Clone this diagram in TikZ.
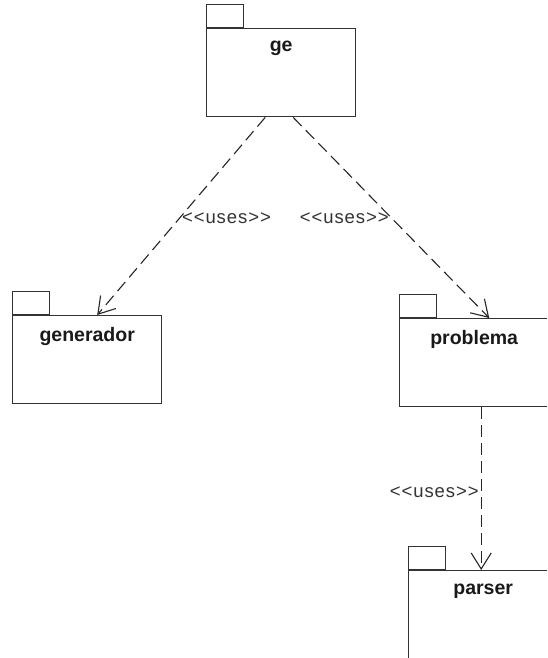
\documentclass[tikz,border=0pt]{standalone}
\usepackage{fontspec}
\setmainfont{Liberation Sans}
\usepackage{tikz}
\usetikzlibrary{positioning, calc, arrows.meta}

\begin{document}
\begin{tikzpicture}[
    x=1pt, y=-1pt,
    pkg/.style={
        rectangle, draw=black!80, line width=1.4pt,
        minimum width=149pt, minimum height=88pt,
        anchor=north west, inner sep=0pt
    },
    pkgtab/.style={
        rectangle, draw=black!80, line width=1.4pt,
        minimum width=37pt, minimum height=23pt,
        anchor=south west, inner sep=0pt
    },
    pkgname/.style={font=\fontsize{19.5}{22}\selectfont\bfseries, text=black!90, inner sep=0pt},
    uses/.style={
        -{Straight Barb[length=16pt, width=20pt, line width=1.1pt]},
        dash pattern=on 12pt off 6pt, line width=1.1pt, draw=black!85
    },
    stereo/.style={font=\fontsize{18.5}{20}\selectfont\addfontfeatures{LetterSpace=5}, text=black!80, inner sep=2pt}
]

% 0. Page frame (the right and lower packages run off the edge)
\path[use as bounding box, clip] (0,0) rectangle (547,658);
\fill[white] (0,0) rectangle (547,658);

% 1. Packages
\node[pkg] (ge) at (206,28) {};
\node[pkg] (generador) at (12,315) {};
\node[pkg] (problema) at (399,318) {};
\node[pkg] (parser) at (408,570) {};

% 2. Tabs on top of each package
\node[pkgtab] (getab) at (ge.north west) {};
\node[pkgtab] (generadortab) at (generador.north west) {};
\node[pkgtab] (problematab) at (problema.north west) {};
\node[pkgtab] (parsertab) at (parser.north west) {};

% 3. Package names, a little under the top edge
\node[pkgname] (gename) at ([yshift=-20pt]ge.north) {ge};
\node[pkgname] (generadorname) at ([yshift=-21pt]generador.north) {generador};
\node[pkgname] (problemaname) at ([yshift=-21pt]problema.north) {problema};
\node[pkgname] (parsername) at ([yshift=-21pt]parser.north) {parser};

% 4. Dependencies
\draw[uses] ([xshift=-16pt]ge.south) -- node[stereo, right, pos=0.51] {{<}{<}uses{>}{>}} ([xshift=10pt]generador.north);
\draw[uses] ([xshift=12pt]ge.south) -- node[stereo, left, pos=0.5] {{<}{<}uses{>}{>}} ([xshift=15pt]problema.north);
\draw[uses] ([xshift=7pt]problema.south) -- node[stereo, left, pos=0.52] {{<}{<}uses{>}{>}} ([xshift=7pt]problema.south |- parser.north);

\end{tikzpicture}
\end{document}
